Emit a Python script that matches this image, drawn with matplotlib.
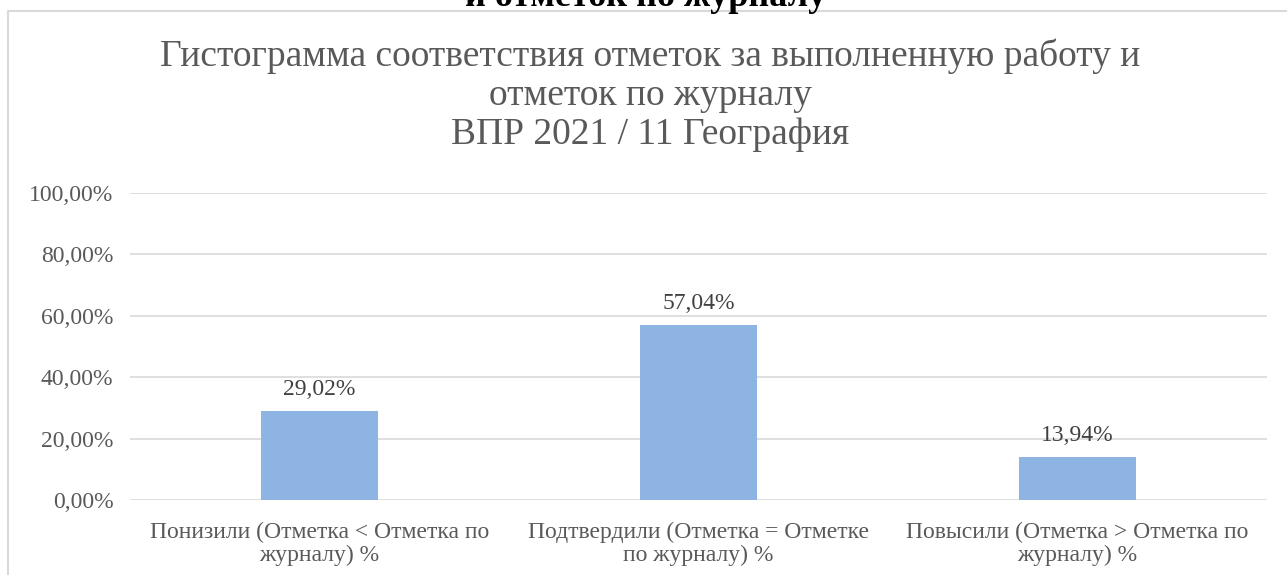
import numpy as np
import matplotlib
matplotlib.use('Agg')
import matplotlib.pyplot as plt
from matplotlib.lines import Line2D

# Data
categories = ["Понизили (Отметка < Отметка по\nжурналу) %",
              "Подтвердили (Отметка = Отметке\nпо журналу) %",
              "Повысили (Отметка > Отметка по\nжурналу) %"]
values = [29.02, 57.04, 13.94]
yticks = [0, 20, 40, 60, 80, 100]

title = ("Гистограмма соответствия отметок за выполненную работу и\n"
         "отметок по журналу\nВПР 2021 / 11 География")
top_text = "и отметок по журналу"

plt.rcParams['font.family'] = ['Liberation Serif', 'DejaVu Serif']
grey = "#595959"
W, H = 1287., 575.

fig = plt.figure(figsize=(12.87, 5.75), dpi=100)
ax = fig.add_axes([130 / W, 75 / H, 1137 / W, 307 / H])

# chart frame (only left and top border visible)
fig.add_artist(Line2D([8 / W, 8 / W, 1.0], [0.0, 1 - 11 / H, 1 - 11 / H],
                      transform=fig.transFigure, color="#D9D9D9",
                      linewidth=1.5, zorder=0))

# cut-off heading above the chart
fig.text(646 / W, 1 - 6 / H, top_text, ha="center", va="baseline",
         fontsize=26, fontweight="bold", color="black", zorder=5)

x = np.arange(len(values))
ax.bar(x, values, width=0.31, color="#8EB4E3", zorder=3)
for xi, v in zip(x, values):
    ax.text(xi, v + 3.6, "{0:.2f}%".format(v).replace(".", ","),
            ha="center", va="bottom", fontsize=17, color="#404040")

ax.set_xlim(-0.5, len(values) - 0.5)
ax.set_ylim(0, 100)
ax.set_yticks(yticks)
ax.set_yticklabels(["{0:.2f}%".format(t).replace(".", ",") for t in yticks],
                   fontsize=17, color=grey)
ax.set_xticks(x)
ax.set_xticklabels(categories, fontsize=17, color=grey, linespacing=1.1)
ax.tick_params(axis="y", length=0, pad=12)
ax.tick_params(axis="x", length=0, pad=16)
ax.grid(axis="y", color="#D9D9D9", linewidth=1.2, zorder=0)
for s in ax.spines.values():
    s.set_visible(False)

fig.text(650 / W, 1 - 38 / H, title, ha="center", va="top",
         fontsize=27, color=grey, linespacing=1.18)

fig.savefig("out.png", dpi=100)
